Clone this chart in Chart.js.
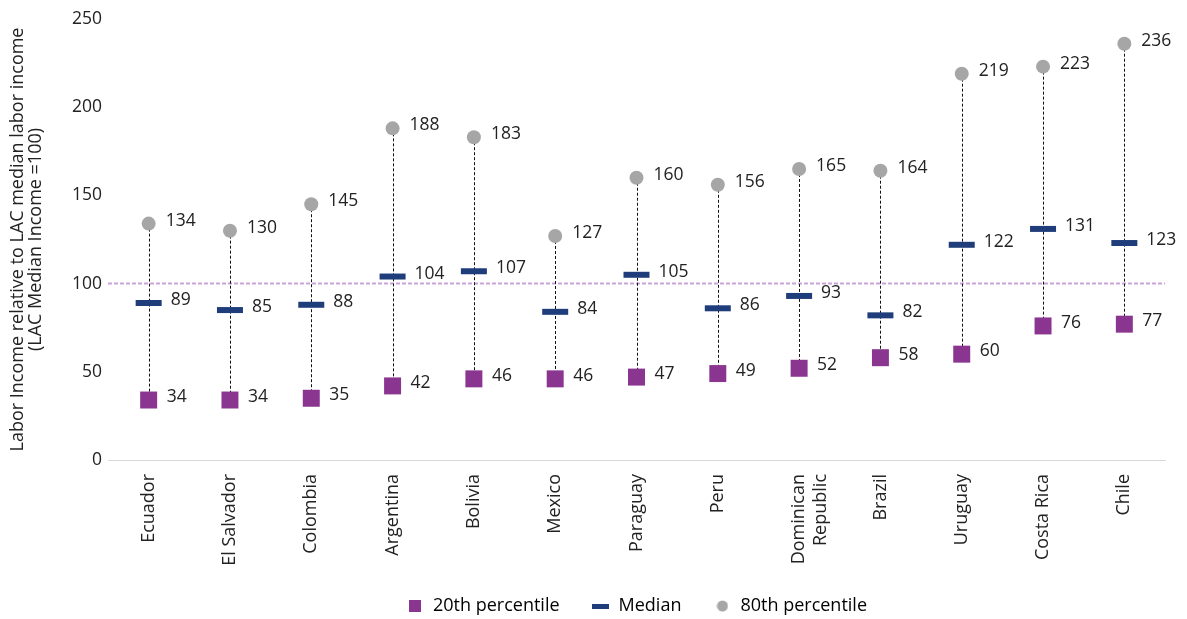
<!DOCTYPE html>
<html>
<head>
<meta charset="utf-8">
<title>Labor income distribution by country</title>
<script src="https://cdn.jsdelivr.net/npm/chart.js@4.4.1/dist/chart.umd.min.js"></script>
<style>
  html, body { margin: 0; padding: 0; background: #ffffff; }
  #wrap { width: 1187px; height: 619px; }
</style>
</head>
<body>
<div id="wrap"><canvas id="chart" width="1187" height="619"></canvas></div>
<script>
  // Countries, sorted by 20th percentile income
  const countries = [
    'Ecuador', 'El Salvador', 'Colombia', 'Argentina', 'Bolivia', 'Mexico',
    'Paraguay', 'Peru', ['Dominican', 'Republic'], 'Brazil', 'Uruguay',
    'Costa Rica', 'Chile'
  ];

  // Labor income relative to LAC median (=100)
  const p20 = [34, 34, 35, 42, 46, 46, 47, 49, 52, 58, 60, 76, 77];
  const median = [89, 85, 88, 104, 107, 84, 105, 86, 93, 82, 122, 131, 123];
  const p80 = [134, 130, 145, 188, 183, 127, 160, 156, 165, 164, 219, 223, 236];

  const yTicks = [0, 50, 100, 150, 200, 250];
  const referenceLevel = 100;

  const PURPLE = '#8a3590';
  const NAVY = '#1f3d7a';
  const GREY = '#a6a6a6';
  const TEXT = '#222222';
  const FONT = "'Open Sans', 'Noto Sans', sans-serif";

  Chart.defaults.font.family = FONT;
  Chart.defaults.color = TEXT;

  // small canvases used as legend icons
  function makeIcon(w, h, draw) {
    const c = document.createElement('canvas');
    c.width = w;
    c.height = h;
    draw(c.getContext('2d'));
    return c;
  }
  const iconSquare = makeIcon(12, 12, g => { g.fillStyle = PURPLE; g.fillRect(0, 0, 12, 12); });
  const iconDash = makeIcon(17, 5, g => { g.fillStyle = NAVY; g.fillRect(0, 0, 17, 5); });
  const iconDot = makeIcon(12, 12, g => {
    g.fillStyle = GREY;
    g.beginPath();
    g.arc(6, 6, 5.5, 0, Math.PI * 2);
    g.fill();
  });
  const legendIcons = [iconSquare, iconDash, iconDot];

  // dashed reference line at 100 plus dotted range lines p20..p80
  const rangeLines = {
    id: 'rangeLines',
    beforeDatasetsDraw(chart) {
      const { ctx, chartArea, scales } = chart;
      const x = scales.x, y = scales.y;
      ctx.save();

      const yRef = y.getPixelForValue(referenceLevel);
      ctx.strokeStyle = '#c9a3d8';
      ctx.lineWidth = 2;
      ctx.setLineDash([4, 2]);
      ctx.beginPath();
      ctx.moveTo(chartArea.left, yRef);
      ctx.lineTo(chartArea.right, yRef);
      ctx.stroke();

      ctx.strokeStyle = '#111111';
      ctx.lineWidth = 1;
      ctx.setLineDash([3, 2]);
      countries.forEach((c, i) => {
        const px = Math.round(x.getPixelForValue(i)) + 0.5;
        ctx.beginPath();
        ctx.moveTo(px, y.getPixelForValue(p80[i]));
        ctx.lineTo(px, y.getPixelForValue(p20[i]));
        ctx.stroke();
      });
      ctx.restore();
    }
  };

  // value labels to the right of each marker
  const valueLabels = {
    id: 'valueLabels',
    afterDatasetsDraw(chart) {
      const { ctx } = chart;
      ctx.save();
      ctx.font = '17.5px ' + FONT;
      ctx.fillStyle = TEXT;
      ctx.textAlign = 'left';
      ctx.textBaseline = 'middle';
      chart.data.datasets.forEach((ds, di) => {
        const meta = chart.getDatasetMeta(di);
        meta.data.forEach((pt, j) => {
          ctx.fillText(String(ds.data[j]), pt.x + ds.labelOffset, pt.y - 3);
        });
      });
      ctx.restore();
    }
  };

  new Chart(document.getElementById('chart'), {
    type: 'line',
    data: {
      labels: countries,
      datasets: [
        {
          label: '20th percentile',
          data: p20,
          showLine: false,
          pointStyle: 'rect',
          pointRadius: 12,
          pointBorderWidth: 0,
          pointBackgroundColor: PURPLE,
          backgroundColor: PURPLE,
          labelOffset: 18
        },
        {
          label: 'Median',
          data: median,
          showLine: false,
          pointStyle: 'line',
          pointRadius: 13,
          pointBorderWidth: 6,
          pointBorderColor: NAVY,
          borderColor: NAVY,
          labelOffset: 22
        },
        {
          label: '80th percentile',
          data: p80,
          showLine: false,
          pointStyle: 'circle',
          pointRadius: 7,
          pointBorderWidth: 0,
          pointBackgroundColor: GREY,
          backgroundColor: GREY,
          labelOffset: 17
        }
      ]
    },
    options: {
      responsive: false,
      animation: false,
      events: [],
      layout: { padding: { top: 18, right: 22, left: 0, bottom: -6 } },
      plugins: {
        tooltip: { enabled: false },
        legend: {
          position: 'bottom',
          fullSize: false,
          labels: {
            usePointStyle: true,
            padding: 32,
            color: TEXT,
            font: { size: 18 },
            generateLabels(chart) {
              return chart.data.datasets.map((ds, i) => ({
                text: ds.label,
                pointStyle: legendIcons[i],
                fillStyle: 'transparent',
                strokeStyle: 'transparent',
                lineWidth: 0,
                hidden: false,
                datasetIndex: i
              }));
            }
          }
        }
      },
      scales: {
        x: {
          offset: true,
          grid: { display: false, drawTicks: false },
          border: { display: true, color: '#d9d9d9', width: 1 },
          ticks: {
            maxRotation: 90,
            minRotation: 90,
            padding: 14,
            autoSkip: false,
            color: TEXT,
            font: { size: 18 }
          },
          afterFit(scale) { scale.height = 105; }
        },
        y: {
          min: 0,
          max: 250,
          afterBuildTicks(scale) { scale.ticks = yTicks.map(v => ({ value: v })); },
          grid: { display: false, drawTicks: false },
          border: { display: false },
          ticks: { padding: 6, color: TEXT, font: { size: 17.5 } },
          title: {
            display: true,
            text: ['Labor Income relative to LAC median labor income', '(LAC Median Income =100)'],
            color: TEXT,
            font: { size: 18, lineHeight: 1.05 },
            padding: { top: 8, bottom: 0 }
          },
          afterFit(scale) { scale.width = 108; }
        }
      }
    },
    plugins: [rangeLines, valueLabels]
  });
</script>
</body>
</html>
